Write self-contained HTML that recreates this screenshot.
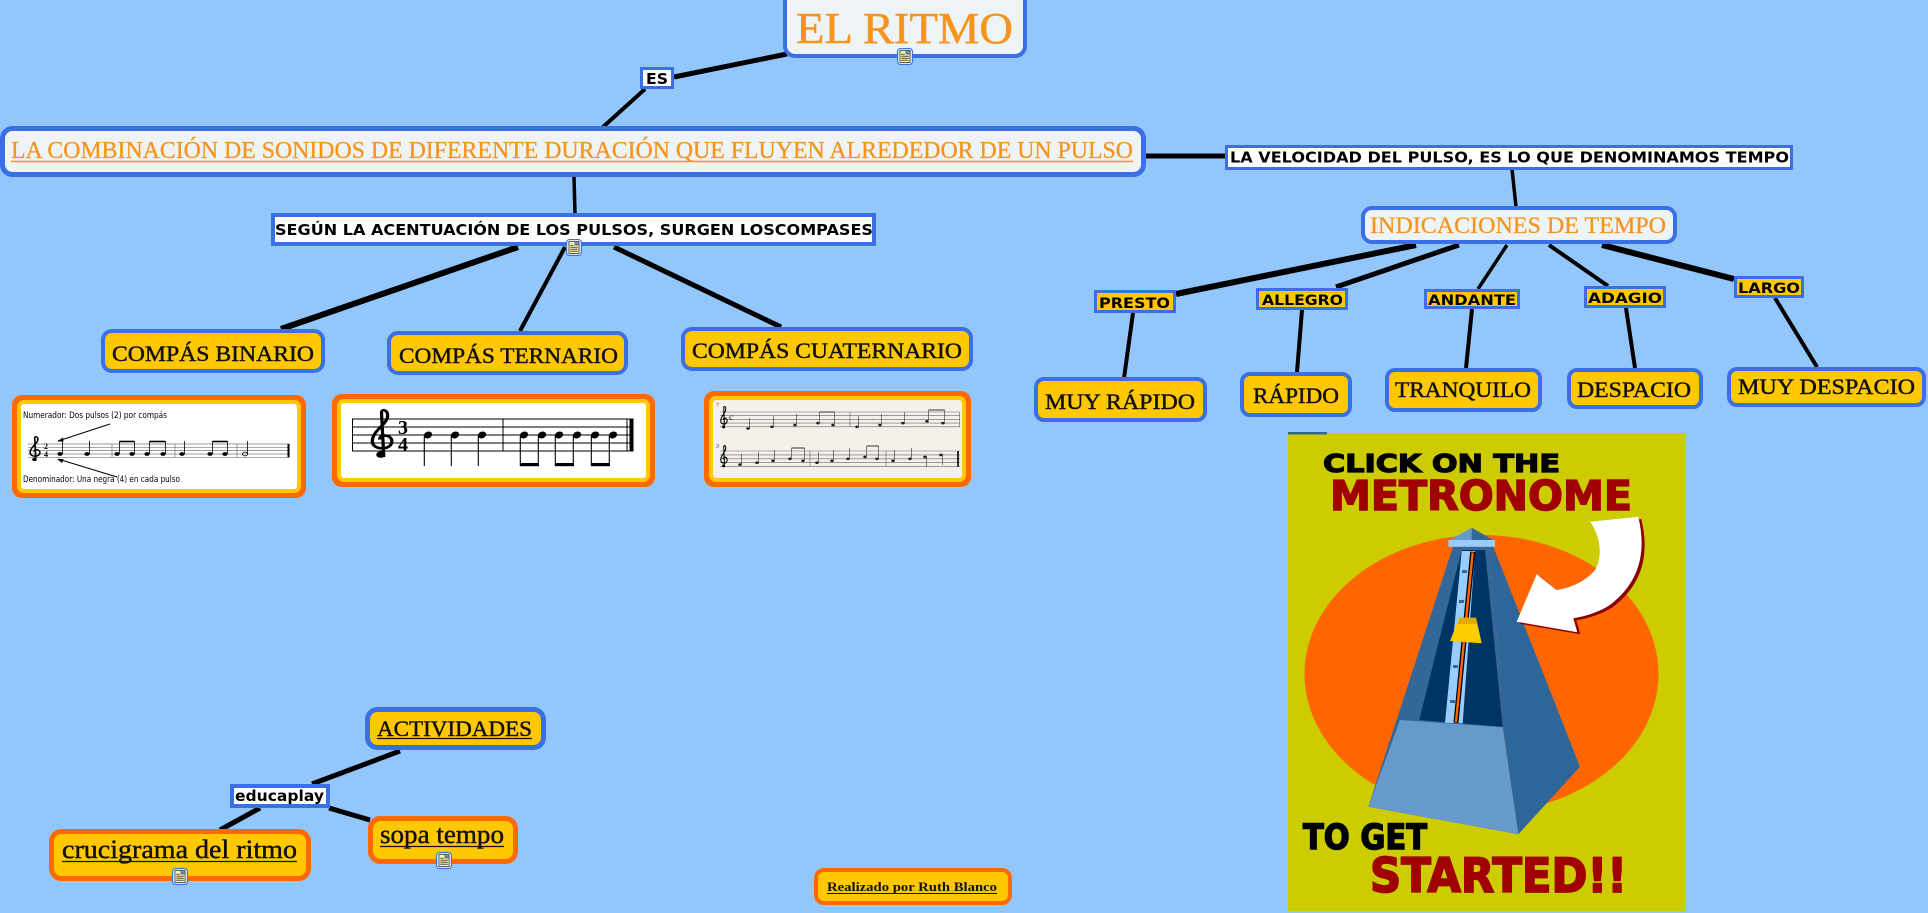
<!DOCTYPE html>
<html><head><meta charset="utf-8"><title>El Ritmo</title>
<style>
html,body{margin:0;padding:0;background:#93c6fb;}
svg{display:block;}
</style></head>
<body>
<svg width="1928" height="913" viewBox="0 0 1928 913" xmlns="http://www.w3.org/2000/svg">
<defs>
<symbol id="ic" viewBox="0 0 16 17">
<rect x="0.5" y="0.5" width="15" height="16" rx="3" fill="#d3e3f6" stroke="#3a6fe6" stroke-width="1"/>
<rect x="3" y="2.5" width="10" height="12" fill="#fff5b0" stroke="#222" stroke-width="0.7"/>
<rect x="8.3" y="3" width="4.2" height="3.6" fill="#5a9ad0"/>
<rect x="9.5" y="4.6" width="2" height="1.6" fill="#d04040"/>
<line x1="4.3" y1="8.2" x2="11.8" y2="8.2" stroke="#222" stroke-width="0.8"/>
<line x1="4.3" y1="10.2" x2="11.8" y2="10.2" stroke="#222" stroke-width="0.8"/>
<line x1="4.3" y1="12.2" x2="11.8" y2="12.2" stroke="#222" stroke-width="0.8"/>
<line x1="4.3" y1="6.2" x2="7.5" y2="6.2" stroke="#222" stroke-width="0.8"/>
</symbol>
<g id="clef">
<path d="M6 26 C3 27.5 1.5 24 4 23 C6 22.3 7.2 25 6 26 Z" fill="#000"/>
<path d="M6 26 L5 2 C5 -0.5 8.5 0.5 7.5 5 C6.5 9 1 12 1 17.5 C1 22.5 9.5 22.5 9.5 17.5 C9.5 13.5 4 13.5 4.2 16.5" fill="none" stroke="#000" stroke-width="1.4"/>
</g>
</defs>

<rect width="1928" height="913" fill="#93c6fb"/>

<!-- connectors -->
<g stroke="#000" stroke-linecap="butt" fill="none">
<line x1="787" y1="54" x2="674" y2="77" stroke-width="5"/>
<line x1="645" y1="89" x2="603" y2="127" stroke-width="4"/>
<line x1="1146" y1="156" x2="1226" y2="156" stroke-width="5"/>
<line x1="574" y1="177" x2="575" y2="214" stroke-width="3.5"/>
<line x1="1512" y1="169" x2="1516" y2="207" stroke-width="3.5"/>
<line x1="1416" y1="245" x2="1176" y2="294" stroke-width="6"/>
<line x1="1459" y1="245" x2="1336" y2="287" stroke-width="5"/>
<line x1="1507" y1="245" x2="1478" y2="289" stroke-width="3.5"/>
<line x1="1549" y1="245" x2="1608" y2="286" stroke-width="4"/>
<line x1="1602" y1="245" x2="1734" y2="279" stroke-width="6"/>
<line x1="1133" y1="313" x2="1124" y2="378" stroke-width="4"/>
<line x1="1302" y1="310" x2="1297" y2="372" stroke-width="4"/>
<line x1="1472" y1="309" x2="1466" y2="368" stroke-width="4"/>
<line x1="1626" y1="308" x2="1635" y2="368" stroke-width="4"/>
<line x1="1775" y1="298" x2="1817" y2="367" stroke-width="4"/>
<line x1="518" y1="247" x2="281" y2="329" stroke-width="6"/>
<line x1="565" y1="247" x2="520" y2="331" stroke-width="4"/>
<line x1="614" y1="247" x2="781" y2="327" stroke-width="5"/>
<line x1="400" y1="751" x2="312" y2="784" stroke-width="5"/>
<line x1="260" y1="808" x2="220" y2="830" stroke-width="5"/>
<line x1="329" y1="808" x2="370" y2="820" stroke-width="5"/>
</g>

<!-- EL RITMO -->
<rect x="785" y="-10" width="240" height="66" rx="10" fill="#eef3f5" stroke="#3a6fe6" stroke-width="4"/>
<text x="796" y="43" font-family="Liberation Serif, serif" font-size="44" fill="#f7941d" stroke="#f7941d" stroke-width="0.5" textLength="217" lengthAdjust="spacingAndGlyphs">EL RITMO</text>
<use href="#ic" x="897" y="48" width="16" height="17"/>

<!-- ES -->
<rect x="641.5" y="68.5" width="31" height="19" fill="#ffffff" stroke="#3a6fe6" stroke-width="3"/>
<text x="646" y="84" font-family="DejaVu Sans, Liberation Sans, sans-serif" font-weight="bold" font-size="15" fill="#000" textLength="22" lengthAdjust="spacingAndGlyphs">ES</text>

<!-- LA COMBINACION -->
<rect x="2.5" y="128.5" width="1141" height="46" rx="10" fill="#eef3f5" stroke="#3a6fe6" stroke-width="5"/>
<text x="11" y="158" font-family="Liberation Serif, serif" font-size="24" fill="#f7941d" stroke="#f7941d" stroke-width="0.3" textLength="1122" lengthAdjust="spacingAndGlyphs">LA COMBINACIÓN DE SONIDOS DE DIFERENTE DURACIÓN QUE FLUYEN ALREDEDOR DE UN PULSO</text>
<line x1="11" y1="161.5" x2="1133" y2="161.5" stroke="#f7941d" stroke-width="1.5"/>

<!-- LA VELOCIDAD -->
<rect x="1226.5" y="146.5" width="565" height="22" fill="#ffffff" stroke="#3a6fe6" stroke-width="3"/>
<text x="1230" y="162.5" font-family="DejaVu Sans, Liberation Sans, sans-serif" font-weight="bold" font-size="15" fill="#000" textLength="559" lengthAdjust="spacingAndGlyphs">LA VELOCIDAD DEL PULSO, ES LO QUE DENOMINAMOS TEMPO</text>

<!-- INDICACIONES -->
<rect x="1363" y="208" width="312" height="34" rx="9" fill="#eef3f5" stroke="#3a6fe6" stroke-width="4"/>
<text x="1370" y="233" font-family="Liberation Serif, serif" font-size="23" fill="#f7941d" stroke="#f7941d" stroke-width="0.3" textLength="296" lengthAdjust="spacingAndGlyphs">INDICACIONES DE TEMPO</text>

<!-- tempo labels -->
<g font-family="DejaVu Sans, Liberation Sans, sans-serif" font-weight="bold" font-size="14" fill="#000">
<rect x="1095.5" y="291.5" width="79" height="20" fill="#ffc800" stroke="#3a6fe6" stroke-width="3"/>
<text x="1099" y="308" textLength="71" lengthAdjust="spacingAndGlyphs">PRESTO</text>
<rect x="1257.5" y="289.5" width="89" height="19" fill="#ffc800" stroke="#3a6fe6" stroke-width="3"/>
<text x="1262" y="305" textLength="81" lengthAdjust="spacingAndGlyphs">ALLEGRO</text>
<rect x="1425.5" y="290.5" width="93" height="17" fill="#ffc800" stroke="#3a6fe6" stroke-width="3"/>
<text x="1428" y="305" textLength="88" lengthAdjust="spacingAndGlyphs">ANDANTE</text>
<rect x="1585.5" y="287.5" width="79" height="19" fill="#ffc800" stroke="#3a6fe6" stroke-width="3"/>
<text x="1588" y="303" textLength="74" lengthAdjust="spacingAndGlyphs">ADAGIO</text>
<rect x="1735.5" y="277.5" width="67" height="19" fill="#ffc800" stroke="#3a6fe6" stroke-width="3"/>
<text x="1738" y="293" textLength="62" lengthAdjust="spacingAndGlyphs">LARGO</text>
</g>

<!-- tempo meaning boxes -->
<g font-family="Liberation Serif, serif" font-size="22" fill="#111">
<rect x="1036" y="379" width="169" height="41" rx="8" fill="#ffc800" stroke="#3a6fe6" stroke-width="4"/>
<rect x="1242" y="374" width="108" height="41" rx="8" fill="#ffc800" stroke="#3a6fe6" stroke-width="4"/>
<rect x="1387" y="370" width="153" height="40" rx="8" fill="#ffc800" stroke="#3a6fe6" stroke-width="4"/>
<rect x="1569" y="370" width="132" height="37" rx="8" fill="#ffc800" stroke="#3a6fe6" stroke-width="4"/>
<rect x="1729" y="369" width="195" height="36" rx="8" fill="#ffc800" stroke="#3a6fe6" stroke-width="4"/>
<g stroke="#111" stroke-width="0.45">
<text x="1045" y="409" textLength="150" lengthAdjust="spacingAndGlyphs">MUY RÁPIDO</text>
<text x="1253" y="403" textLength="86" lengthAdjust="spacingAndGlyphs">RÁPIDO</text>
<text x="1395" y="397" textLength="136" lengthAdjust="spacingAndGlyphs">TRANQUILO</text>
<text x="1577" y="397" textLength="114" lengthAdjust="spacingAndGlyphs">DESPACIO</text>
<text x="1738" y="394" textLength="177" lengthAdjust="spacingAndGlyphs">MUY DESPACIO</text>
</g>
</g>

<!-- SEGUN -->
<rect x="273" y="215" width="601" height="29" fill="#ffffff" stroke="#3a6fe6" stroke-width="4"/>
<text x="275" y="235" font-family="DejaVu Sans, Liberation Sans, sans-serif" font-weight="bold" font-size="15" fill="#000" textLength="598" lengthAdjust="spacingAndGlyphs">SEGÚN LA ACENTUACIÓN DE LOS PULSOS, SURGEN LOSCOMPASES</text>
<use href="#ic" x="566" y="239" width="16" height="17"/>

<!-- compas boxes -->
<g font-family="Liberation Serif, serif" font-size="22" fill="#111">
<rect x="103" y="331" width="220" height="40" rx="9" fill="#ffc800" stroke="#3a6fe6" stroke-width="4"/>
<rect x="389" y="333" width="237" height="40" rx="9" fill="#ffc800" stroke="#3a6fe6" stroke-width="4"/>
<rect x="683" y="329" width="288" height="40" rx="9" fill="#ffc800" stroke="#3a6fe6" stroke-width="4"/>
<g stroke="#111" stroke-width="0.45">
<text x="112" y="361" textLength="202" lengthAdjust="spacingAndGlyphs">COMPÁS BINARIO</text>
<text x="399" y="363" textLength="219" lengthAdjust="spacingAndGlyphs">COMPÁS TERNARIO</text>
<text x="692" y="358" textLength="270" lengthAdjust="spacingAndGlyphs">COMPÁS CUATERNARIO</text>
</g>
</g>

<!-- Binario image -->
<rect x="12" y="395" width="294" height="103" rx="10" fill="#ff6a00"/>
<rect x="17" y="400" width="284" height="93" rx="7" fill="#ffc800"/>
<rect x="21" y="404" width="276" height="85" rx="3" fill="#ffffff"/>
<text x="23" y="418" font-family="DejaVu Sans, sans-serif" font-size="8.5" fill="#000" textLength="144" lengthAdjust="spacingAndGlyphs">Numerador: Dos pulsos (2) por compás</text>
<text x="23" y="482" font-family="DejaVu Sans, sans-serif" font-size="8.5" fill="#000" textLength="157" lengthAdjust="spacingAndGlyphs">Denominador: Una negra (4) en cada pulso</text>
<g stroke="#777" stroke-width="0.7">
<line x1="28" y1="444" x2="290" y2="444"/><line x1="28" y1="447.3" x2="290" y2="447.3"/><line x1="28" y1="450.6" x2="290" y2="450.6"/><line x1="28" y1="454" x2="290" y2="454"/><line x1="28" y1="457.3" x2="290" y2="457.3"/>
<line x1="112" y1="444" x2="112" y2="457.3"/><line x1="175" y1="444" x2="175" y2="457.3"/><line x1="237" y1="444" x2="237" y2="457.3"/>
</g>
<line x1="288.5" y1="444" x2="288.5" y2="457.3" stroke="#000" stroke-width="2"/>
<use href="#clef" transform="translate(29,436) scale(1.15,0.95)"/>
<text x="44" y="449" font-family="Liberation Serif, serif" font-weight="bold" font-size="8" fill="#000">2</text>
<text x="44" y="457" font-family="Liberation Serif, serif" font-weight="bold" font-size="8" fill="#000">4</text>
<g fill="#000" stroke="#000">
<g stroke="none">
<ellipse cx="60" cy="454" rx="2.6" ry="1.9"/><ellipse cx="87" cy="454" rx="2.6" ry="1.9"/>
<ellipse cx="117" cy="454" rx="2.6" ry="1.9"/><ellipse cx="132" cy="454" rx="2.6" ry="1.9"/>
<ellipse cx="147" cy="454" rx="2.6" ry="1.9"/><ellipse cx="163" cy="454" rx="2.6" ry="1.9"/>
<ellipse cx="182" cy="454" rx="2.6" ry="1.9"/><ellipse cx="210" cy="454" rx="2.6" ry="1.9"/><ellipse cx="225" cy="454" rx="2.6" ry="1.9"/>
</g>
<ellipse cx="245" cy="454" rx="2.6" ry="1.9" fill="none" stroke-width="0.8"/>
<g stroke-width="0.8">
<line x1="62.5" y1="454" x2="62.5" y2="441"/><line x1="89.5" y1="454" x2="89.5" y2="441"/>
<line x1="119.5" y1="454" x2="119.5" y2="441"/><line x1="134.5" y1="454" x2="134.5" y2="441"/>
<line x1="149.5" y1="454" x2="149.5" y2="441"/><line x1="165.5" y1="454" x2="165.5" y2="441"/>
<line x1="184.5" y1="454" x2="184.5" y2="441"/><line x1="212.5" y1="454" x2="212.5" y2="441"/><line x1="227.5" y1="454" x2="227.5" y2="441"/>
<line x1="247.5" y1="454" x2="247.5" y2="441"/>
</g>
<g stroke-width="1.6"><line x1="119.5" y1="441.5" x2="134.5" y2="441.5"/><line x1="149.5" y1="441.5" x2="165.5" y2="441.5"/><line x1="212.5" y1="441.5" x2="227.5" y2="441.5"/></g>
<g stroke-width="1"><line x1="110" y1="424" x2="58" y2="441"/><line x1="117" y1="477" x2="58" y2="459"/></g>
<path d="M57 441.5 L63 437.5 L63.5 441.5 Z" stroke="none"/>
<path d="M57 459 L63.5 459 L62 463 Z" stroke="none"/>
</g>

<!-- Ternario image -->
<rect x="332" y="394" width="323" height="93" rx="10" fill="#ff6a00"/>
<rect x="337" y="399" width="313" height="83" rx="7" fill="#ffc800"/>
<rect x="341" y="403" width="305" height="75" rx="3" fill="#ffffff"/>
<g stroke="#000" stroke-width="1">
<line x1="352" y1="419" x2="630" y2="419"/><line x1="352" y1="427" x2="630" y2="427"/><line x1="352" y1="435" x2="630" y2="435"/><line x1="352" y1="443" x2="630" y2="443"/><line x1="352" y1="451" x2="630" y2="451"/>
<line x1="352.5" y1="419" x2="352.5" y2="451"/>
<line x1="503" y1="419" x2="503" y2="451"/>
<line x1="627" y1="419" x2="627" y2="451"/>
</g>
<rect x="629.5" y="418.5" width="4" height="33" fill="#000"/>
<use href="#clef" transform="translate(370,409) scale(2.3,1.85)"/>
<text x="398" y="434" font-family="Liberation Serif, serif" font-weight="bold" font-size="20" fill="#000">3</text>
<text x="398" y="451" font-family="Liberation Serif, serif" font-weight="bold" font-size="20" fill="#000">4</text>
<g fill="#000">
<ellipse cx="428" cy="435" rx="4.3" ry="3.3" transform="rotate(-20 428 435)"/>
<ellipse cx="455" cy="435" rx="4.3" ry="3.3" transform="rotate(-20 455 435)"/>
<ellipse cx="482" cy="435" rx="4.3" ry="3.3" transform="rotate(-20 482 435)"/>
<ellipse cx="524" cy="435" rx="4.3" ry="3.3" transform="rotate(-20 524 435)"/>
<ellipse cx="542" cy="435" rx="4.3" ry="3.3" transform="rotate(-20 542 435)"/>
<ellipse cx="559" cy="435" rx="4.3" ry="3.3" transform="rotate(-20 559 435)"/>
<ellipse cx="577" cy="435" rx="4.3" ry="3.3" transform="rotate(-20 577 435)"/>
<ellipse cx="595" cy="435" rx="4.3" ry="3.3" transform="rotate(-20 595 435)"/>
<ellipse cx="613" cy="435" rx="4.3" ry="3.3" transform="rotate(-20 613 435)"/>
</g>
<g stroke="#000" stroke-width="1.1">
<line x1="424.3" y1="436" x2="424.3" y2="466"/><line x1="451.3" y1="436" x2="451.3" y2="466"/><line x1="478.3" y1="436" x2="478.3" y2="466"/>
<line x1="520.3" y1="436" x2="520.3" y2="466"/><line x1="538.3" y1="436" x2="538.3" y2="466"/>
<line x1="555.3" y1="436" x2="555.3" y2="466"/><line x1="573.3" y1="436" x2="573.3" y2="466"/>
<line x1="591.3" y1="436" x2="591.3" y2="466"/><line x1="609.3" y1="436" x2="609.3" y2="466"/>
</g>
<g fill="#000"><rect x="520" y="463" width="19" height="3.2"/><rect x="555" y="463" width="19" height="3.2"/><rect x="591" y="463" width="19" height="3.2"/></g>

<!-- Cuaternario image -->
<rect x="704" y="391" width="267" height="96" rx="10" fill="#ff6a00"/>
<rect x="709" y="396" width="257" height="86" rx="7" fill="#ffc800"/>
<rect x="713" y="400" width="249" height="78" rx="3" fill="#f4f1eb"/>
<text x="716" y="407" font-family="Liberation Serif, serif" font-size="6" fill="#c02020">7</text>
<text x="716" y="448" font-family="Liberation Serif, serif" font-style="italic" font-size="6" fill="#333">3</text>
<g stroke="#666" stroke-width="0.6">
<line x1="720" y1="412" x2="960" y2="412"/><line x1="720" y1="415.7" x2="960" y2="415.7"/><line x1="720" y1="419.4" x2="960" y2="419.4"/><line x1="720" y1="423.1" x2="960" y2="423.1"/><line x1="720" y1="426.8" x2="960" y2="426.8"/>
<line x1="850" y1="412" x2="850" y2="426.8"/><line x1="959.5" y1="412" x2="959.5" y2="426.8"/>
<line x1="720" y1="451" x2="960" y2="451"/><line x1="720" y1="454.9" x2="960" y2="454.9"/><line x1="720" y1="458.8" x2="960" y2="458.8"/><line x1="720" y1="462.7" x2="960" y2="462.7"/><line x1="720" y1="466.6" x2="960" y2="466.6"/>
<line x1="810" y1="451" x2="810" y2="466.6"/><line x1="886" y1="451" x2="886" y2="466.6"/>
</g>
<line x1="958" y1="451" x2="958" y2="466.6" stroke="#000" stroke-width="1.6"/>
<use href="#clef" transform="translate(720,406) scale(0.75,0.85)"/>
<use href="#clef" transform="translate(720,445) scale(0.75,0.85)"/>
<text x="729" y="420" font-family="Liberation Serif, serif" font-size="9" fill="#000">c</text>
<g fill="#222">
<ellipse cx="748" cy="428.5" rx="1.8" ry="1.3"/><ellipse cx="772" cy="426.8" rx="1.8" ry="1.3"/><ellipse cx="795" cy="425" rx="1.8" ry="1.3"/><ellipse cx="818" cy="423.1" rx="1.8" ry="1.3"/><ellipse cx="833" cy="425" rx="1.8" ry="1.3"/>
<ellipse cx="857" cy="426.8" rx="1.8" ry="1.3"/><ellipse cx="880" cy="425" rx="1.8" ry="1.3"/><ellipse cx="903" cy="423.1" rx="1.8" ry="1.3"/><ellipse cx="927" cy="421.2" rx="1.8" ry="1.3"/><ellipse cx="943" cy="423.1" rx="1.8" ry="1.3"/>
<ellipse cx="740" cy="464.6" rx="1.8" ry="1.3"/><ellipse cx="757" cy="462.7" rx="1.8" ry="1.3"/><ellipse cx="773" cy="460.8" rx="1.8" ry="1.3"/><ellipse cx="790" cy="458.8" rx="1.8" ry="1.3"/><ellipse cx="803" cy="460.8" rx="1.8" ry="1.3"/>
<ellipse cx="817" cy="462.7" rx="1.8" ry="1.3"/><ellipse cx="832" cy="460.8" rx="1.8" ry="1.3"/><ellipse cx="848" cy="458.8" rx="1.8" ry="1.3"/><ellipse cx="865" cy="456.9" rx="1.8" ry="1.3"/><ellipse cx="877" cy="458.8" rx="1.8" ry="1.3"/>
<ellipse cx="893" cy="460.8" rx="1.8" ry="1.3"/><ellipse cx="910" cy="458.8" rx="1.8" ry="1.3"/><ellipse cx="925" cy="456.9" rx="1.8" ry="1.3"/><ellipse cx="941" cy="454.9" rx="1.8" ry="1.3"/>
</g>
<g stroke="#333" stroke-width="0.6">
<line x1="749.6" y1="428" x2="749.6" y2="418"/><line x1="773.6" y1="426" x2="773.6" y2="416"/><line x1="796.6" y1="424" x2="796.6" y2="414"/><line x1="819.6" y1="422" x2="819.6" y2="412"/><line x1="834.6" y1="424" x2="834.6" y2="412"/>
<line x1="858.6" y1="426" x2="858.6" y2="416"/><line x1="881.6" y1="424" x2="881.6" y2="414"/><line x1="904.6" y1="422" x2="904.6" y2="412"/><line x1="928.6" y1="420" x2="928.6" y2="410"/><line x1="944.6" y1="422" x2="944.6" y2="410"/>
<line x1="741.6" y1="464" x2="741.6" y2="454"/><line x1="758.6" y1="462" x2="758.6" y2="452"/><line x1="774.6" y1="460" x2="774.6" y2="450"/><line x1="791.6" y1="458" x2="791.6" y2="448"/><line x1="804.6" y1="460" x2="804.6" y2="448"/>
<line x1="818.6" y1="462" x2="818.6" y2="452"/><line x1="833.6" y1="460" x2="833.6" y2="450"/><line x1="849.6" y1="458" x2="849.6" y2="448"/><line x1="866.6" y1="456" x2="866.6" y2="446"/><line x1="878.6" y1="458" x2="878.6" y2="446"/>
<line x1="894.6" y1="460" x2="894.6" y2="450"/><line x1="911.6" y1="458" x2="911.6" y2="448"/><line x1="926.6" y1="457" x2="926.6" y2="467"/><line x1="942.6" y1="455" x2="942.6" y2="465"/>
</g>
<g stroke="#333" stroke-width="1"><line x1="819.6" y1="412" x2="834.6" y2="412"/><line x1="928.6" y1="410" x2="944.6" y2="410"/><line x1="791.6" y1="448" x2="804.6" y2="448"/><line x1="866.6" y1="446" x2="878.6" y2="446"/></g>

<!-- ACTIVIDADES -->
<rect x="367.5" y="709.5" width="176" height="38" rx="10" fill="#ffc800" stroke="#3a6fe6" stroke-width="5"/>
<text x="377" y="736" font-family="Liberation Serif, serif" font-size="22" fill="#111" stroke="#111" stroke-width="0.45" textLength="155" lengthAdjust="spacingAndGlyphs">ACTIVIDADES</text>
<line x1="377" y1="738.5" x2="532" y2="738.5" stroke="#111" stroke-width="1.3"/>

<!-- educaplay -->
<rect x="232" y="786" width="96" height="20" fill="#ffffff" stroke="#3a6fe6" stroke-width="4"/>
<text x="235" y="801" font-family="DejaVu Sans, Liberation Sans, sans-serif" font-weight="bold" font-size="15" fill="#000" textLength="89" lengthAdjust="spacingAndGlyphs">educaplay</text>

<!-- crucigrama -->
<rect x="51.5" y="831.5" width="257" height="47" rx="10" fill="#ffc800" stroke="#ff6a00" stroke-width="5"/>
<text x="62" y="858" font-family="Liberation Serif, serif" font-size="26" fill="#111" stroke="#111" stroke-width="0.45" textLength="235" lengthAdjust="spacingAndGlyphs">crucigrama del ritmo</text>
<line x1="62" y1="861.5" x2="297" y2="861.5" stroke="#111" stroke-width="1.3"/>
<use href="#ic" x="172" y="868" width="16" height="17"/>

<!-- sopa tempo -->
<rect x="370.5" y="818.5" width="145" height="43" rx="10" fill="#ffc800" stroke="#ff6a00" stroke-width="5"/>
<text x="380" y="843" font-family="Liberation Serif, serif" font-size="26" fill="#111" stroke="#111" stroke-width="0.45" textLength="124" lengthAdjust="spacingAndGlyphs">sopa tempo</text>
<line x1="380" y1="846.5" x2="504" y2="846.5" stroke="#111" stroke-width="1.3"/>
<use href="#ic" x="436" y="852" width="16" height="17"/>

<!-- Realizado -->
<rect x="816" y="870" width="194" height="33" rx="8" fill="#ffc800" stroke="#ff6a00" stroke-width="4"/>
<text x="827" y="891" font-family="Liberation Serif, serif" font-weight="bold" font-size="13" fill="#111" textLength="170" lengthAdjust="spacingAndGlyphs">Realizado por Ruth Blanco</text>
<line x1="827" y1="893.5" x2="997" y2="893.5" stroke="#111" stroke-width="1.1"/>

<!-- Metronome image -->
<rect x="1288" y="433" width="397" height="478" fill="#cccc00"/>
<rect x="1288" y="432" width="39" height="2.5" fill="#336699"/>
<ellipse cx="1481.5" cy="674" rx="177" ry="139" fill="#ff6600"/>
<!-- pyramid -->
<polygon points="1453,546.7 1490,546.7 1503,726 1518.3,834.3 1368.3,806.7" fill="#336699"/>
<polygon points="1490,546.7 1493.3,546.7 1580,766.7 1518.3,834.3 1503,726" fill="#2f6699"/>
<polygon points="1461.7,550 1485,550 1502.7,726.7 1419.3,720" fill="#003366"/>
<polygon points="1400,720 1502.7,727.3 1518.3,834.3 1368.3,806.7" fill="#6699cc"/>
<polygon points="1461.7,551 1475,551 1462.7,723.3 1445,722.7" fill="#99ccff"/>
<g fill="#336699">
<rect x="1462" y="570" width="5" height="3"/><rect x="1459" y="600" width="5" height="3"/><rect x="1456" y="630" width="5" height="3"/><rect x="1453" y="665" width="5" height="3"/><rect x="1450" y="700" width="5" height="3"/>
</g>
<line x1="1472.7" y1="551.7" x2="1456" y2="722.7" stroke="#000" stroke-width="5"/>
<line x1="1472.7" y1="552.5" x2="1456" y2="722" stroke="#ff6600" stroke-width="2.4"/>
<polygon points="1459.3,617.7 1476,617.7 1481.7,643.3 1450,641" fill="#ffcc00"/>
<polygon points="1459.3,617.7 1476,617.7 1477.5,624 1457.5,624" fill="#e6a800"/>
<polygon points="1448.3,540 1495,540 1495,546.7 1448.3,546.7" fill="#99ccff"/>
<polygon points="1450,540 1471.7,527.7 1471.7,540" fill="#6699cc"/>
<polygon points="1471.7,527.7 1493.3,540 1471.7,540" fill="#336699"/>
<!-- arrow -->
<path d="M1593,524 L1641.3,519 C1649.7,554 1643,584 1613,607 C1602,614 1590,618 1576.3,620.3 L1580.3,634.3 L1519.7,623.7 L1539.7,576.3 L1559.7,592 C1575,590 1590,582 1598,572 C1605,561 1605,540 1593,524 Z" fill="#8b0000"/>
<path d="M1590,521.7 L1638.3,516.7 C1646.7,551.7 1640,581.7 1610,605 C1599,612 1587,616 1573.3,618.3 L1577.3,632.3 L1516.7,621.7 L1536.7,574.3 L1556.7,590 C1572,588 1587,580 1595,570 C1602,559 1602,538 1590,521.7 Z" fill="#ffffff"/>
<!-- metronome texts -->
<text x="1323" y="472" font-family="DejaVu Sans, Liberation Sans, sans-serif" font-weight="bold" font-size="25" fill="#000" stroke="#000" stroke-width="1.2" textLength="237" lengthAdjust="spacingAndGlyphs">CLICK ON THE</text>
<text x="1330" y="510" font-family="DejaVu Sans, Liberation Sans, sans-serif" font-weight="bold" font-size="41" fill="#a00000" stroke="#a00000" stroke-width="1.5" textLength="302" lengthAdjust="spacingAndGlyphs">METRONOME</text>
<text x="1303" y="849" font-family="DejaVu Sans, Liberation Sans, sans-serif" font-weight="bold" font-size="35" fill="#000" stroke="#000" stroke-width="1.5" textLength="124" lengthAdjust="spacingAndGlyphs">TO GET</text>
<text x="1370" y="892" font-family="DejaVu Sans, Liberation Sans, sans-serif" font-weight="bold" font-size="47" fill="#a00000" stroke="#a00000" stroke-width="1.8" textLength="257" lengthAdjust="spacingAndGlyphs">STARTED!!</text>
</svg>
</body></html>
